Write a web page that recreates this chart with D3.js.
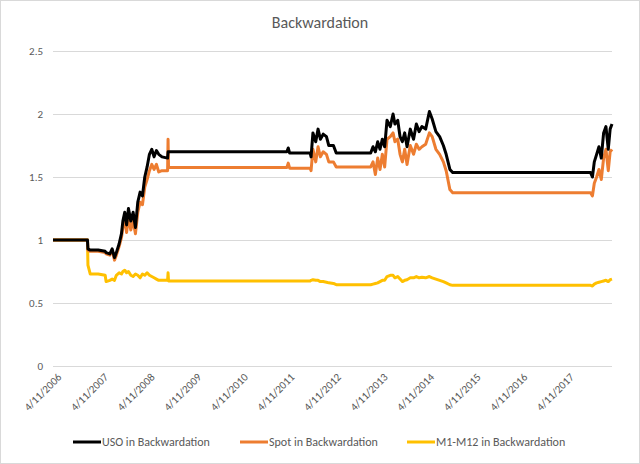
<!DOCTYPE html>
<html><head><meta charset="utf-8">
<script src="https://cdn.jsdelivr.net/npm/d3@7"></script>
<style>body{margin:0;background:#fff}svg{font-family:Calibri,"Liberation Sans",Arial,sans-serif}</style>
</head><body><svg id="c" width="640" height="464"></svg>
<script>
const dates=[2006.28,2007.02,2007.03,2007.08,2007.25,2007.40,2007.42,2007.50,2007.55,2007.60,2007.64,2007.70,2007.75,2007.78,2007.82,2007.86,2007.90,2007.95,2008.00,2008.05,2008.10,2008.15,2008.20,2008.25,2008.30,2008.35,2008.40,2008.45,2008.50,2008.55,2008.62,2008.74,2008.75,2008.76,2011.30,2011.33,2011.36,2011.80,2011.82,2011.86,2011.92,2011.97,2012.02,2012.08,2012.15,2012.20,2012.30,2012.36,2013.10,2013.15,2013.20,2013.25,2013.30,2013.35,2013.40,2013.45,2013.52,2013.58,2013.62,2013.68,2013.73,2013.78,2013.83,2013.88,2013.95,2014.02,2014.08,2014.14,2014.20,2014.28,2014.36,2014.42,2014.50,2014.58,2014.66,2014.72,2014.80,2014.86,2017.82,2017.86,2017.90,2017.95,2018.00,2018.05,2018.10,2018.15,2018.20,2018.24,2018.28];
const uso=[1,1,.93,.92,.92,.91,.90,.89,.93,.86,.90,.97,1.05,1.15,1.22,1.12,1.25,1.15,1.22,1.10,1.30,1.38,1.35,1.50,1.58,1.68,1.72,1.66,1.71,1.68,1.66,1.65,1.70,1.70,1.70,1.73,1.69,1.69,1.66,1.85,1.78,1.88,1.80,1.84,1.82,1.75,1.75,1.69,1.69,1.74,1.70,1.78,1.72,1.80,1.74,1.95,1.90,2.00,1.92,1.95,1.82,1.78,1.85,1.74,1.88,1.80,1.92,1.86,1.90,1.88,2.02,1.96,1.86,1.82,1.75,1.68,1.56,1.535,1.535,1.50,1.62,1.68,1.74,1.65,1.85,1.90,1.72,1.88,1.92];
const spot=[1,1,.92,.91,.91,.90,.89,.88,.92,.84,.88,.95,1.02,1.10,1.16,1.06,1.18,1.08,1.15,1.05,1.22,1.30,1.28,1.42,1.48,1.55,1.60,1.56,1.60,1.54,1.55,1.55,1.80,1.575,1.575,1.61,1.57,1.57,1.55,1.72,1.62,1.74,1.66,1.70,1.68,1.62,1.62,1.58,1.58,1.62,1.52,1.65,1.56,1.68,1.58,1.80,1.82,1.85,1.78,1.80,1.68,1.62,1.72,1.60,1.75,1.68,1.76,1.72,1.74,1.76,1.85,1.82,1.72,1.68,1.62,1.55,1.40,1.375,1.375,1.35,1.45,1.50,1.56,1.48,1.65,1.72,1.55,1.70,1.72];
const m1m12=[1,1,.80,.73,.73,.72,.67,.68,.69,.68,.72,.74,.73,.75,.76,.74,.75,.72,.71,.73,.72,.70,.73,.72,.74,.72,.71,.70,.69,.68,.68,.68,.74,.675,.675,.675,.675,.675,.68,.685,.68,.68,.67,.67,.665,.66,.655,.645,.645,.65,.655,.66,.67,.68,.68,.71,.72,.72,.70,.71,.69,.67,.68,.685,.70,.70,.71,.70,.705,.70,.71,.70,.69,.68,.67,.66,.645,.64,.64,.635,.65,.66,.665,.67,.675,.68,.67,.685,.69];
const yTicks=[0,0.5,1,1.5,2,2.5];
const xTickLabels=["4/11/2006","4/11/2007","4/11/2008","4/11/2009","4/11/2010","4/11/2011","4/11/2012","4/11/2013","4/11/2014","4/11/2015","4/11/2016","4/11/2017"];
const seriesNames=["USO in Backwardation","Spot in Backwardation","M1-M12 in Backwardation"];
const colors=["#000000","#ED7D31","#FFC000"];

const svg=d3.select("#c");
svg.append("rect").attr("x",0.5).attr("y",0.5).attr("width",639).attr("height",463).attr("fill","#fff").attr("stroke","#d9d9d9");
const x=d3.scaleLinear().domain([2006.28,2018.28]).range([53,612]);
const y=d3.scaleLinear().domain([0,2.5]).range([366,51]);
svg.append("text").attr("x",320).attr("y",28).attr("text-anchor","middle").attr("font-size",16).attr("fill","#595959").text("Backwardation");
const ya=svg.append("g").attr("transform","translate(53,0)").call(d3.axisLeft(y).tickValues(yTicks).tickFormat(d3.format("")).tickSize(-559).tickPadding(10));
ya.select(".domain").remove();
ya.selectAll("line").attr("stroke","#d9d9d9");
ya.selectAll("text").attr("fill","#595959").attr("font-size",11).attr("font-family","Calibri,'Liberation Sans',Arial,sans-serif");
const xa=svg.append("g").attr("transform","translate(0,366)").call(d3.axisBottom(x).tickValues(xTickLabels.map((d,i)=>2006.28+i)).tickFormat((d,i)=>xTickLabels[i]).tickSize(0).tickPadding(8));
xa.select(".domain").remove();
xa.selectAll("text").attr("fill","#595959").attr("font-size",11).attr("font-family","Calibri,'Liberation Sans',Arial,sans-serif")
  .attr("text-anchor","end").attr("transform","rotate(-45)").attr("dx","-0.2em").attr("dy","0.6em");
const vals=[uso,spot,m1m12];
[2,1,0].forEach(k=>{
  const line=d3.line().x((d,i)=>x(dates[i])).y(d=>y(d));
  svg.append("path").datum(vals[k]).attr("d",line).attr("fill","none").attr("stroke",colors[k]).attr("stroke-width",3).attr("stroke-linejoin","round");
});
const lx=[73,240,407];
seriesNames.forEach((n,i)=>{
  svg.append("line").attr("x1",lx[i]).attr("x2",lx[i]+28).attr("y1",442).attr("y2",442).attr("stroke",colors[i]).attr("stroke-width",3);
  svg.append("text").attr("x",lx[i]+29).attr("y",446).attr("font-size",12).attr("fill","#595959").text(n);
});
</script></body></html>
